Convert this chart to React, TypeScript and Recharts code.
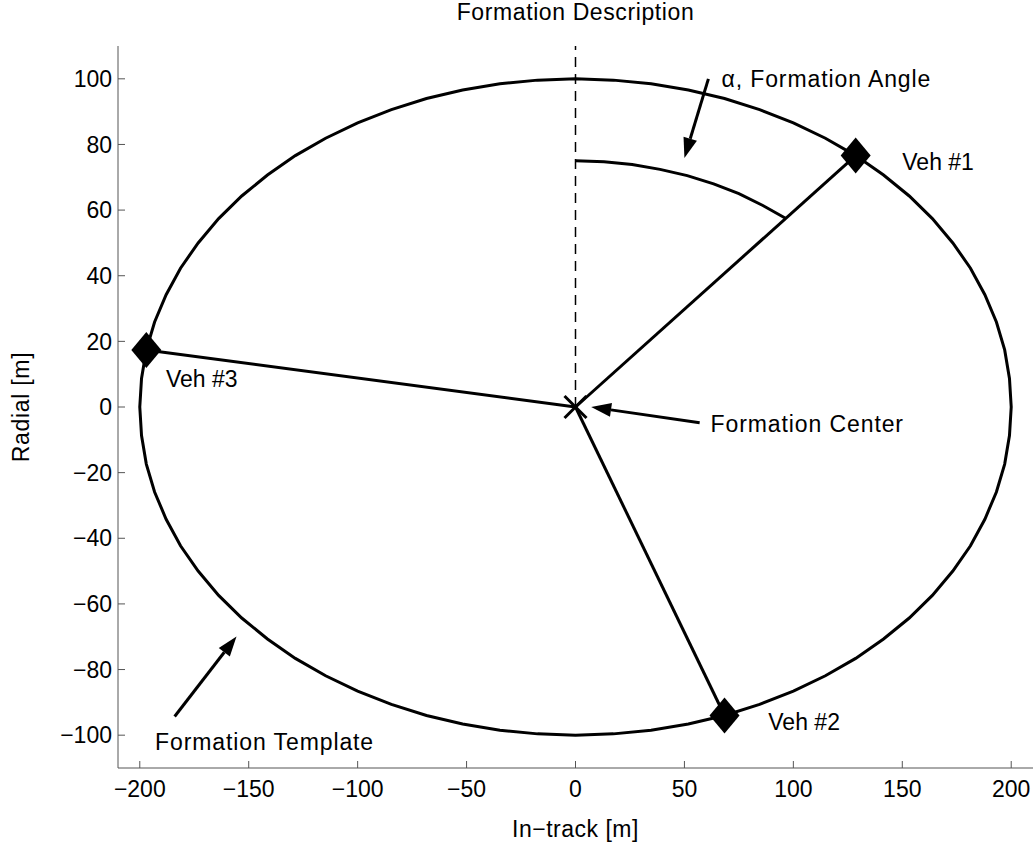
import {
  ComposedChart,
  Line,
  Scatter,
  XAxis,
  YAxis,
  ReferenceLine,
  Label,
} from "recharts";

const FONT = "'Liberation Sans', Arial, Helvetica, sans-serif";

const xTicks = [-200, -150, -100, -50, 0, 50, 100, 150, 200];
const yTicks = [-100, -80, -60, -40, -20, 0, 20, 40, 60, 80, 100];

// formation template (ellipse), read every 5 deg
const templateX = [
  200, 199.2, 197.0, 193.2, 187.9, 181.3, 173.2, 163.8, 153.2, 141.4, 128.6, 114.7, 100.0, 84.5, 68.4, 51.8, 34.7, 17.4,
  0, -17.4, -34.7, -51.8, -68.4, -84.5, -100, -114.7, -128.6, -141.4, -153.2, -163.8, -173.2, -181.3, -187.9, -193.2, -197.0, -199.2,
  -200, -199.2, -197.0, -193.2, -187.9, -181.3, -173.2, -163.8, -153.2, -141.4, -128.6, -114.7, -100, -84.5, -68.4, -51.8, -34.7, -17.4,
  0, 17.4, 34.7, 51.8, 68.4, 84.5, 100, 114.7, 128.6, 141.4, 153.2, 163.8, 173.2, 181.3, 187.9, 193.2, 197.0, 199.2,
  200,
];
const templateY = [
  0, 8.7, 17.4, 25.9, 34.2, 42.3, 50.0, 57.4, 64.3, 70.7, 76.6, 81.9, 86.6, 90.6, 94.0, 96.6, 98.5, 99.6,
  100, 99.6, 98.5, 96.6, 94.0, 90.6, 86.6, 81.9, 76.6, 70.7, 64.3, 57.4, 50.0, 42.3, 34.2, 25.9, 17.4, 8.7,
  0, -8.7, -17.4, -25.9, -34.2, -42.3, -50.0, -57.4, -64.3, -70.7, -76.6, -81.9, -86.6, -90.6, -94.0, -96.6, -98.5, -99.6,
  -100, -99.6, -98.5, -96.6, -94.0, -90.6, -86.6, -81.9, -76.6, -70.7, -64.3, -57.4, -50.0, -42.3, -34.2, -25.9, -17.4, -8.7,
  0,
];

// formation angle arc
const arcX = [0, 13.1, 26.0, 38.8, 51.3, 63.4, 75.0, 86.0, 96.4];
const arcY = [75, 74.7, 73.9, 72.4, 70.5, 68.0, 65.0, 61.4, 57.5];

// vehicles
const vehicleX = [128.6, 68.4, -197.0];
const vehicleY = [76.6, -94.0, 17.4];

// dashed reference from the center up
const refX = [0, 0];
const refY = [0, 110];

// text annotations
const labelText = ["\u03b1, Formation Angle", "Veh #1", "Veh #2", "Veh #3", "Formation Center", "Formation Template"];
const labelX = [67, 150, 88.5, -188, 62, -193];
const labelY = [100, 74.5, -96, 8.4, -5.3, -102];

// arrows: tail -> tip
const arrowFromX = [61, 57, -184];
const arrowFromY = [100, -4.8, -94.3];
const arrowToX = [50, 7.2, -155.6];
const arrowToY = [75.9, 0, -69.9];

const templateData = templateX.map((x, i) => ({ x, y: templateY[i] }));
const arcData = arcX.map((x, i) => ({ x, y: arcY[i] }));
const refData = refX.map((x, i) => ({ x, y: refY[i] }));
const vehicleData = vehicleX.map((x, i) => ({ x, y: vehicleY[i] }));
const spokes = vehicleData.map((v) => [{ x: 0, y: 0 }, v]);
const centerData = [{ x: 0, y: 0 }];
const labelData = labelText.map((text, i) => ({ x: labelX[i], y: labelY[i], text }));

const fmt = (v: number) => (v < 0 ? `\u2212${-v}` : `${v}`);

const Diamond = (p: any) => (
  <polygon
    points={`${p.cx},${p.cy - 18} ${p.cx + 15},${p.cy} ${p.cx},${p.cy + 18} ${p.cx - 15},${p.cy}`}
    fill="#000"
  />
);

const Cross = (p: any) => (
  <g stroke="#000" strokeWidth={3}>
    <line x1={p.cx - 11} y1={p.cy - 11} x2={p.cx + 11} y2={p.cy + 11} />
    <line x1={p.cx - 11} y1={p.cy + 11} x2={p.cx + 11} y2={p.cy - 11} />
  </g>
);

const TextMark = (p: any) => (
  <text
    x={p.cx}
    y={p.cy}
    dy="0.34em"
    fontSize={23}
    fontFamily={FONT}
    fill="#000"
    letterSpacing={p.payload.text.startsWith("Veh") ? 0 : 0.9}
  >
    {p.payload.text}
  </text>
);

const Arrow = (p: any) => {
  const { x1, y1, x2, y2 } = p;
  const dx = x2 - x1;
  const dy = y2 - y1;
  const len = Math.hypot(dx, dy) || 1;
  const ux = dx / len;
  const uy = dy / len;
  const head = 20;
  const half = 7;
  const bx = x2 - ux * head;
  const by = y2 - uy * head;
  return (
    <g>
      <line x1={x1} y1={y1} x2={bx} y2={by} stroke="#000" strokeWidth={3} />
      <polygon
        points={`${x2},${y2} ${bx - uy * half},${by + ux * half} ${bx + uy * half},${by - ux * half}`}
        fill="#000"
      />
    </g>
  );
};

export default function App() {
  return (
    <div style={{ position: "absolute", left: 0, top: 0, width: 1033, height: 847, background: "#fff" }}>
      <div
        style={{
          position: "absolute",
          left: 118,
          top: 0,
          width: 915,
          textAlign: "center",
          fontFamily: FONT,
          fontSize: 23,
          lineHeight: "24px",
          letterSpacing: 0.6,
          color: "#000",
        }}
      >
        Formation Description
      </div>
      <ComposedChart width={1033} height={847} margin={{ top: 46, right: 0, bottom: 0, left: 0 }}>
        <XAxis
          type="number"
          dataKey="x"
          domain={[-210, 210]}
          ticks={xTicks}
          interval={0}
          allowDataOverflow
          height={79}
          tickSize={-7}
          tickMargin={20}
          tickFormatter={fmt}
          axisLine={{ stroke: "#555" }}
          tickLine={{ stroke: "#555" }}
          tick={{ fill: "#000", fontSize: 23, fontFamily: FONT }}
        >
          <Label
            value={"In\u2212track [m]"}
            position="insideBottom"
            offset={10}
            fill="#000"
            fontSize={23}
            fontFamily={FONT}
            letterSpacing={0.5}
          />
        </XAxis>
        <YAxis
          type="number"
          dataKey="y"
          domain={[-110, 110]}
          ticks={yTicks}
          interval={0}
          allowDataOverflow
          width={118}
          tickSize={-7}
          tickMargin={13}
          tickFormatter={fmt}
          axisLine={{ stroke: "#555" }}
          tickLine={{ stroke: "#555" }}
          tick={{ fill: "#000", fontSize: 23, fontFamily: FONT }}
        >
          <Label
            value="Radial [m]"
            angle={-90}
            position="insideLeft"
            offset={21}
            style={{ textAnchor: "middle" }}
            fill="#000"
            fontSize={23}
            fontFamily={FONT}
            letterSpacing={0.7}
          />
        </YAxis>

        <Line data={templateData} dataKey="y" type="linear" stroke="#000" strokeWidth={3} dot={false} isAnimationActive={false} />
        <Line data={refData} dataKey="y" type="linear" stroke="#000" strokeWidth={1.5} strokeDasharray="10 7" dot={false} isAnimationActive={false} />
        <Line data={arcData} dataKey="y" type="linear" stroke="#000" strokeWidth={3} dot={false} isAnimationActive={false} />
        {spokes.map((s, i) => (
          <Line key={i} data={s} dataKey="y" type="linear" stroke="#000" strokeWidth={3} dot={false} isAnimationActive={false} />
        ))}

        <Scatter data={vehicleData} shape={Diamond} isAnimationActive={false} />
        <Scatter data={centerData} shape={Cross} isAnimationActive={false} />
        <Scatter data={labelData} shape={TextMark} isAnimationActive={false} />

        {arrowFromX.map((fx, i) => (
          <ReferenceLine
            key={i}
            segment={[
              { x: fx, y: arrowFromY[i] },
              { x: arrowToX[i], y: arrowToY[i] },
            ]}
            shape={Arrow}
          />
        ))}
      </ComposedChart>
    </div>
  );
}
